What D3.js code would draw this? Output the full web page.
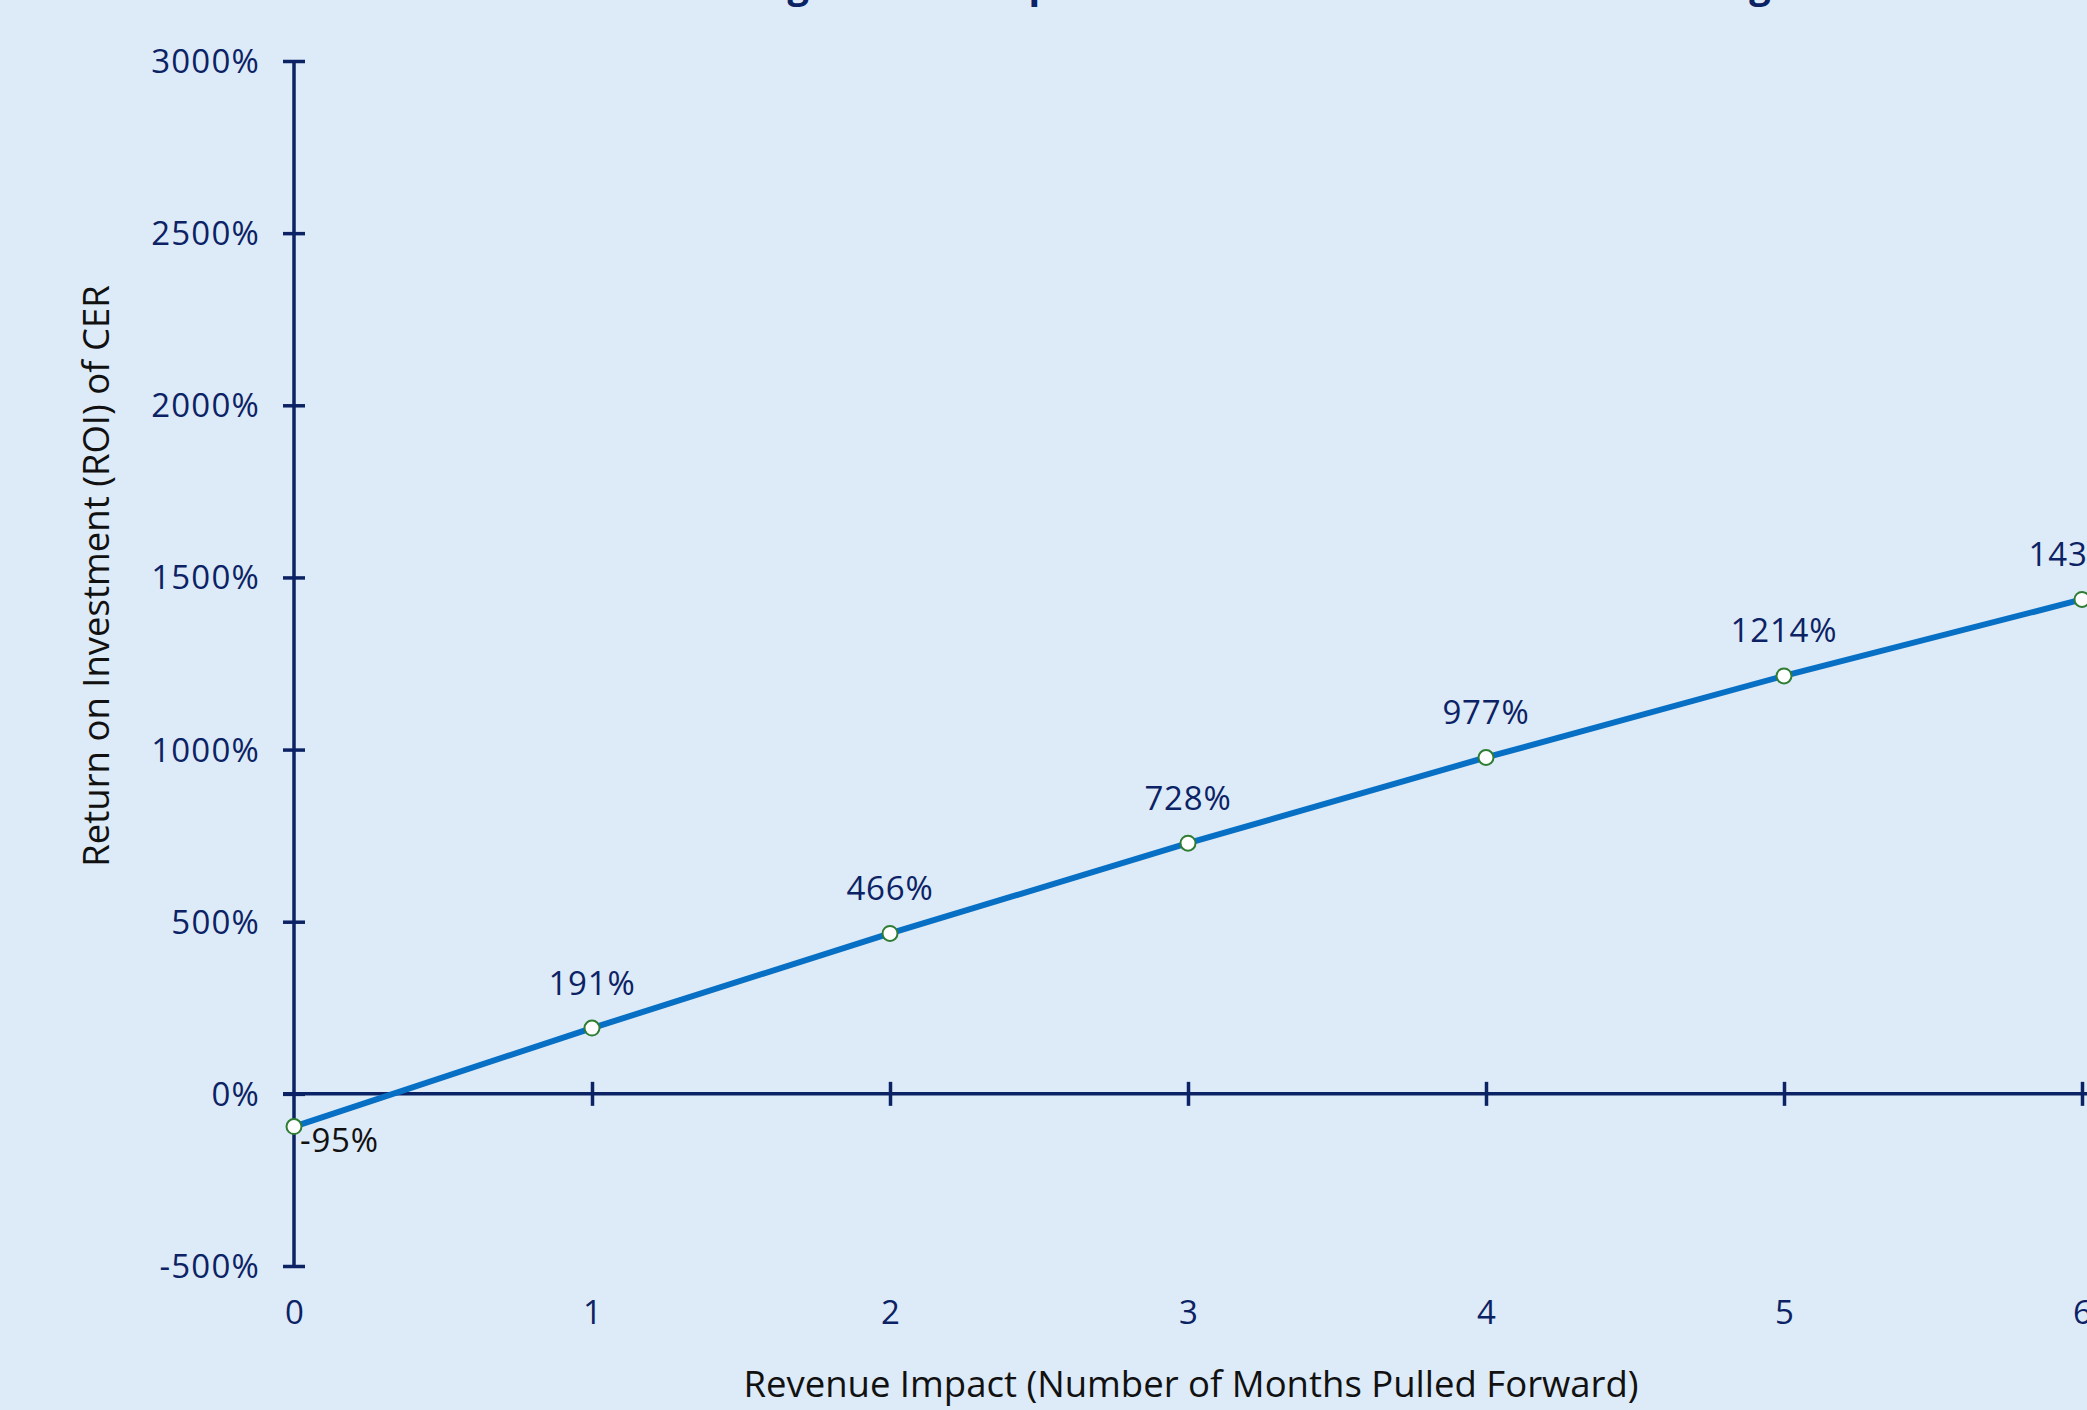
<!DOCTYPE html>
<html>
<head>
<meta charset="utf-8">
<script src="https://cdn.jsdelivr.net/npm/d3@7/dist/d3.min.js"></script>
<style>
  html, body { margin: 0; padding: 0; background: #DDEAF7; overflow: hidden; }
  svg { display: block; }
</style>
</head>
<body>
<svg id="chart" width="2087" height="1410"></svg>
<script>
// Months of revenue pulled forward
const months = [0, 1, 2, 3, 4, 5, 6];
// ROI of CER, in percent
const roiValues = [-95, 191, 466, 728, 977, 1214, 1436];
// Y-axis tick values, in percent
const yTicks = [-500, 0, 500, 1000, 1500, 2000, 2500, 3000];

const titleText = "Revenue Timing and ROI Impact of Accelerated CER Revenue Recognition";
const xTitle = "Revenue Impact (Number of Months Pulled Forward)";
const yTitle = "Return on Investment (ROI) of CER";

const W = 2087, H = 1410;
const navy = "#0B2265";
const lineBlue = "#0870C4";
const font = "'Open Sans', 'Noto Sans', sans-serif";

const svg = d3.select("#chart");
svg.append("rect").attr("width", W).attr("height", H).attr("fill", "#DDEAF7");

const x = d3.scaleLinear().domain([0, 6]).range([294, 2082]);
const y = d3.scaleLinear().domain([-500, 3000]).range([1266, 61]);

// Title (sits above the visible area)
svg.append("text")
  .attr("x", 1195).attr("y", -2)
  .attr("text-anchor", "middle")
  .attr("font-family", font).attr("font-weight", 700)
  .attr("font-size", 38).attr("fill", navy)
  .text(titleText);

// Y axis
const yAxis = d3.axisLeft(y).tickValues(yTicks).tickSize(0)
  .tickFormat(d => d + "%");
const gy = svg.append("g").attr("transform", `translate(${x(0)},0)`).call(yAxis);
gy.select(".domain").remove();
gy.selectAll("text")
  .attr("x", -34).attr("dy", "0.35em")
  .attr("font-family", font).attr("font-size", 33)
  .attr("letter-spacing", 1.2).attr("fill", navy);
gy.append("line").attr("y1", y(-500)).attr("y2", y(3000))
  .attr("stroke", navy).attr("stroke-width", 3.5);
gy.selectAll(".tick").append("line")
  .attr("x1", -11).attr("x2", 11)
  .attr("stroke", navy).attr("stroke-width", 3.5);

// X axis along the zero line
const xAxis = d3.axisBottom(x).tickValues(months).tickSize(0).tickFormat(d3.format("d"));
const gx = svg.append("g").attr("transform", `translate(0,${y(0)})`).call(xAxis);
gx.select(".domain").remove();
gx.selectAll("text")
  .attr("y", y(-500) - y(0) + 46).attr("dy", "0.35em")
  .attr("font-family", font).attr("font-size", 33).attr("fill", navy);
gx.append("line").attr("x1", x(0) - 11).attr("x2", W)
  .attr("stroke", navy).attr("stroke-width", 3.5);
gx.selectAll(".tick").filter(d => d !== 0).append("line")
  .attr("y1", -12).attr("y2", 12)
  .attr("stroke", navy).attr("stroke-width", 3.5);

// Axis titles
svg.append("text")
  .attr("x", 1191).attr("y", 1384).attr("dy", "0.35em")
  .attr("text-anchor", "middle")
  .attr("font-family", font).attr("font-size", 36.5).attr("fill", "#111")
  .text(xTitle);
svg.append("text")
  .attr("transform", "translate(96,576) rotate(-90)")
  .attr("dy", "0.35em")
  .attr("text-anchor", "middle")
  .attr("font-family", font).attr("font-size", 36.5).attr("fill", "#111")
  .text(yTitle);

const data = months.map((m, i) => ({ m, v: roiValues[i] }));

// ROI line
svg.append("path")
  .datum(data)
  .attr("fill", "none")
  .attr("stroke", lineBlue).attr("stroke-width", 6)
  .attr("stroke-linejoin", "round")
  .attr("d", d3.line().x(d => x(d.m)).y(d => y(d.v)));

// Point markers
svg.selectAll("circle.pt").data(data).enter().append("circle")
  .attr("class", "pt")
  .attr("cx", d => x(d.m)).attr("cy", d => y(d.v))
  .attr("r", 7.5)
  .attr("fill", "#fff").attr("stroke", "#2E7D32").attr("stroke-width", 2);

// Value labels
svg.selectAll("text.lbl").data(data).enter().append("text")
  .attr("class", "lbl")
  .attr("x", d => d.v < 0 ? x(d.m) + 6 : x(d.m))
  .attr("y", d => d.v < 0 ? y(d.v) + 14 : y(d.v) - 45)
  .attr("dy", "0.35em")
  .attr("text-anchor", d => d.v < 0 ? "start" : "middle")
  .attr("font-family", font).attr("font-size", 33)
  .attr("letter-spacing", 0.8)
  .attr("fill", d => d.v < 0 ? "#111" : navy)
  .text(d => d.v + "%");
</script>
</body>
</html>
